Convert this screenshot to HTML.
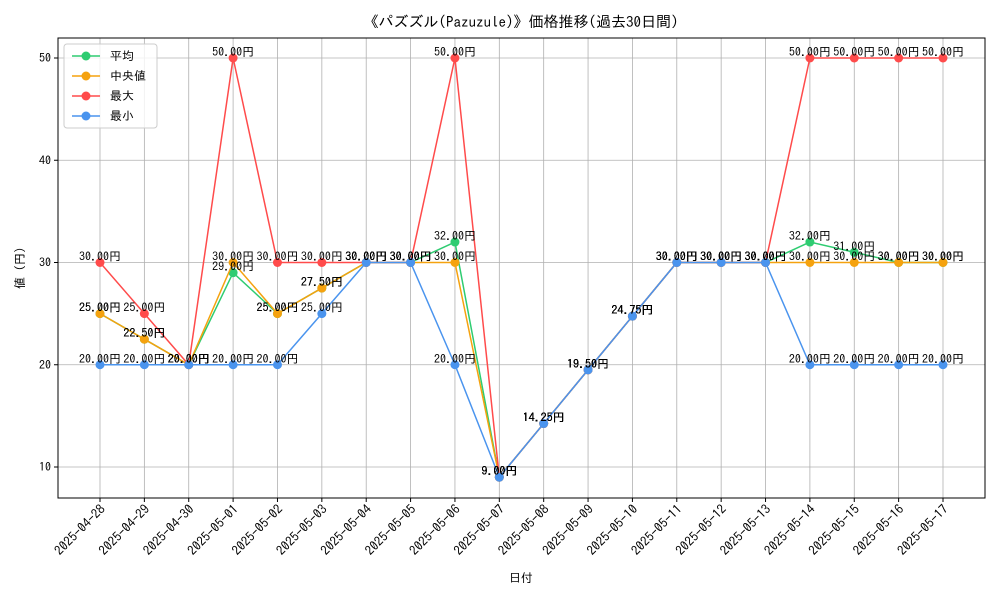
<!DOCTYPE html>
<html><head><meta charset="utf-8"><style>
body{margin:0;background:#fff}
svg{font-family:"IPAGothic","Noto Sans CJK JP","Liberation Sans",sans-serif}
</style></head><body>
<svg id="chart" width="1000" height="600" xmlns="http://www.w3.org/2000/svg">
<rect width="1000" height="600" fill="#fff"/>
<text x="521" y="27" text-anchor="middle" font-size="15">《パズズル(Pazuzule)》価格推移(過去30日間)</text>
<g id="grid"></g>
<g id="series"></g>
<rect x="58" y="38" width="927" height="460" fill="none" stroke="#000" stroke-width="1"/>
<g id="axes"></g>
<text x="521" y="582" text-anchor="middle" font-size="12">日付</text>
<text transform="translate(24,268) rotate(-90)" text-anchor="middle" font-size="12">値 (円)</text>
<g id="legend"></g>
</svg>
<script>
const dates=["2025-04-28","2025-04-29","2025-04-30","2025-05-01","2025-05-02","2025-05-03","2025-05-04","2025-05-05","2025-05-06","2025-05-07","2025-05-08","2025-05-09","2025-05-10","2025-05-11","2025-05-12","2025-05-13","2025-05-14","2025-05-15","2025-05-16","2025-05-17"];
const meanVals=[25,22.5,20,29,25,27.5,30,30,32,9,14.25,19.5,24.75,30,30,30,32,31,30,30];
const medianVals=[25,22.5,20,30,25,27.5,30,30,30,9,14.25,19.5,24.75,30,30,30,30,30,30,30];
const maxVals=[30,25,20,50,30,30,30,30,50,9,14.25,19.5,24.75,30,30,30,50,50,50,50];
const minVals=[20,20,20,20,20,25,30,30,20,9,14.25,19.5,24.75,30,30,30,20,20,20,20];
const yTicks=[10,20,30,40,50];
const seriesNames=["平均","中央値","最大","最小"];
const NS="http://www.w3.org/2000/svg";
const X0=100,X1=943,PL=58,PR=985,PT=38,PB=498;
const xs=i=>X0+(X1-X0)*i/(dates.length-1);
const ys=v=>467-(v-10)*(467-58)/40;
function mk(tag,attrs,parent,text){const e=document.createElementNS(NS,tag);for(const k in attrs)e.setAttribute(k,attrs[k]);if(text!==undefined)e.textContent=text;parent.appendChild(e);return e;}
const grid=document.getElementById('grid'),axes=document.getElementById('axes'),ser=document.getElementById('series'),leg=document.getElementById('legend');
dates.forEach((d,i)=>{
 const l=mk('line',{x1:xs(i),x2:xs(i),y1:PT,y2:PB,stroke:'#b0b0b0','stroke-width':0.8},grid);
 
 mk('line',{x1:xs(i),x2:xs(i),y1:PB,y2:PB+4,stroke:'#000'},axes);
 const t=mk('text',{x:0,y:0,'font-size':13,'text-anchor':'end',transform:`translate(${xs(i)+6},${PB+12}) rotate(-45)`},axes,d);
 
});
yTicks.forEach(v=>{
 const l=mk('line',{x1:PL,x2:PR,y1:ys(v),y2:ys(v),stroke:'#b0b0b0','stroke-width':0.8},grid);
 
 mk('line',{x1:PL-4,x2:PL,y1:ys(v),y2:ys(v),stroke:'#000'},axes);
 const t=mk('text',{x:PL-7,y:ys(v)+4,'font-size':12,'text-anchor':'end'},axes,v);
 
});
const all=[[meanVals,'#2ecc71','mean'],[medianVals,'#f5a20f','median'],[maxVals,'#ff4b4b','max'],[minVals,'#4a94ee','min']];
all.forEach(([vals,c,n])=>{
 const g=mk('g',{},ser);
 
 const pl=mk('polyline',{points:vals.map((v,i)=>xs(i)+','+ys(v)).join(' '),fill:'none',stroke:c,'stroke-width':1.5},g);
 
 vals.forEach((v,i)=>{
  const p=mk('circle',{cx:xs(i),cy:ys(v),r:4.5,fill:c},g);
  
 });
});
all.forEach(([vals,c,n])=>{
 vals.forEach((v,i)=>{
  const t=mk('text',{x:xs(i),y:ys(v)-2,'font-size':12,'text-anchor':'middle'},ser,v.toFixed(2)+'円');
  
 });
});
const lb=mk('rect',{x:64,y:44,width:93,height:84,rx:3,fill:'#fff','fill-opacity':0.8,stroke:'#ccc'},leg);

all.forEach(([vals,c,n],k)=>{
 const y=56+k*20;
 const g=mk('g',{},leg);
 
 mk('line',{x1:72,x2:100,y1:y,y2:y,stroke:c,'stroke-width':1.5},g);
 mk('circle',{cx:86,cy:y,r:4.5,fill:c},g);
 mk('text',{x:110,y:y+4,'font-size':12},g,seriesNames[k]);
});
</script>
</body></html>
